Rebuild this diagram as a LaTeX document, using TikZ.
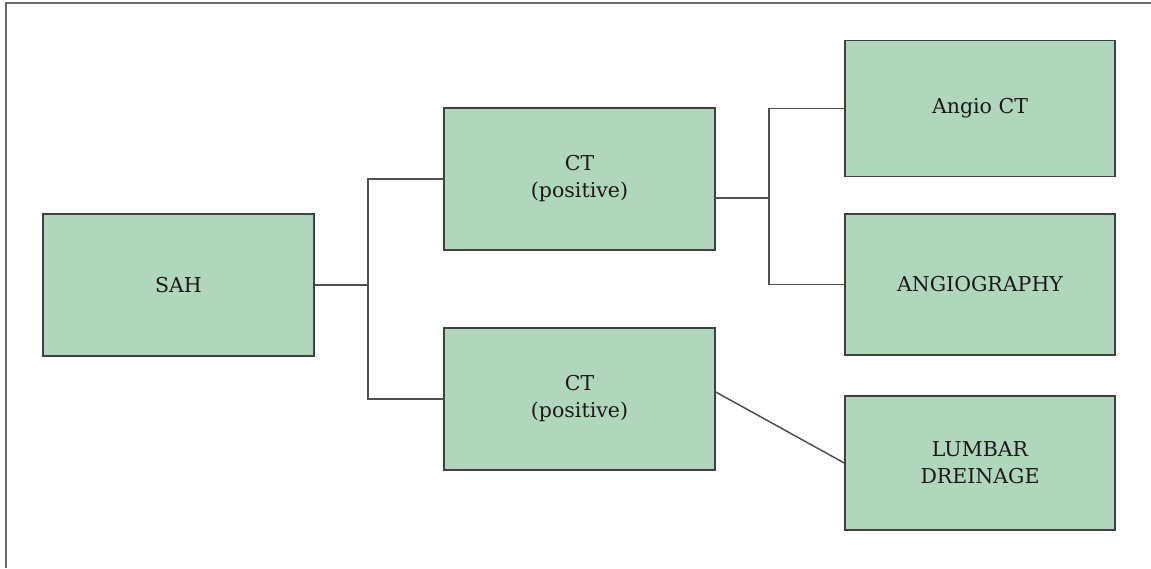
\documentclass[tikz,border=0pt]{standalone}
\usepackage{fontspec}
\setmainfont{DejaVu Serif}
\usepackage{tikz}
\definecolor{boxfill}{HTML}{B0D6BC}
\definecolor{boxline}{HTML}{404040}
\definecolor{wireline}{HTML}{505050}
\definecolor{frameline}{HTML}{6A6A6A}
\tikzstyle{every node} = [
		font = \fontsize{20.5}{27}\selectfont,
		inner sep = 0pt,
	]
\tikzstyle{stage} = [
		rectangle,
		minimum width = 271pt,
		minimum height = 142pt,
		draw = boxline,
		line width = 1.5pt,
		fill = boxfill,
		align = center,
		text = black!90
	]
\tikzstyle{wire} = [
		draw = wireline,
		line width = 1.5pt
	]

\begin{document}
\begin{tikzpicture}[x=1pt, y=-1pt]
	\useasboundingbox (0,0) rectangle (1151,568);
	\draw [frameline, line width = 2pt] (1151,2.5) -- (5.5,2.5) -- (5.5,568);

		%------------------------------Chart------------------------------
		\node [stage] (sah) at (178.5,285) {SAH};
		\node [stage] (ctup) at (579.5,179) {CT\\(positive)};
		\node [stage] (ctdown) at (579.5,399) {CT\\(positive)};
		\node [stage, minimum width = 270pt, minimum height = 136pt] (angioct) at (980,108.5) {Angio CT};
		\node [stage, minimum width = 270pt, minimum height = 141pt] (angiography) at (980,284.5) {ANGIOGRAPHY};
		\node [stage, minimum width = 270pt, minimum height = 134pt] (lumbar) at (980,463) {LUMBAR\\DREINAGE};

		%------------------------------Links------------------------------
		\coordinate (forkA) at (368,285);
		\coordinate (forkB) at (769,198);
		\draw [wire] (sah.east) -- (forkA);
		\draw [wire] (ctup.west) -| (forkA) |- (ctdown.west);
		\draw [wire] (ctup.east |- forkB) -- (forkB);
		\draw [wire] (angioct.west) -| (forkB) |- (angiography.west);
		\draw [wire] ([yshift=7pt]ctdown.east) -- (lumbar.west);

\end{tikzpicture}
\end{document}
